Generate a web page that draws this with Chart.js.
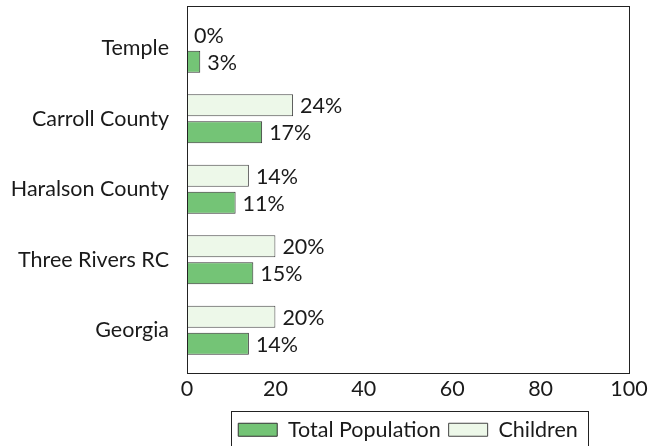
<!DOCTYPE html>
<html>
<head>
<meta charset="utf-8">
<script src="https://cdn.jsdelivr.net/npm/chart.js@4.4.0/dist/chart.umd.min.js"></script>
<style>
html,body{margin:0;padding:0;background:#fff;}
#wrap{width:663px;height:446px;}
</style>
</head>
<body>
<div id="wrap"><canvas id="c" width="663" height="446"></canvas></div>
<script>
const categories = ["Temple", "Carroll County", "Haralson County", "Three Rivers RC", "Georgia"];
const childrenValues = [0, 24, 14, 20, 20];
const totalValues = [3, 17, 11, 15, 14];
const xTicks = [0, 20, 40, 60, 80, 100];

const FONT = "Lato";
const FSIZE = 21.5;
const TXT = "#1a1a1a";

const frame = {
  id: 'frame',
  afterDraw(chart) {
    const ctx = chart.ctx, a = chart.chartArea;
    ctx.save();
    ctx.strokeStyle = '#222';
    ctx.lineWidth = 1;
    ctx.strokeRect(Math.round(a.left) + 0.5, Math.round(a.top) + 0.5, Math.round(a.right - a.left), Math.round(a.bottom - a.top));
    const lg = chart.legend;
    if (lg && lg.legendHitBoxes && lg.legendHitBoxes.length) {
      const hb = lg.legendHitBoxes;
      const l = Math.min(...hb.map(h => h.left)) - 7;
      const r = Math.max(...hb.map(h => h.left + h.width)) + 10;
      const cy = hb[0].top + hb[0].height / 2;
      const t = cy - 18.5;
      const b = cy + 19;
      ctx.strokeRect(Math.round(l) + 0.5, Math.round(t) + 0.5, Math.round(r - l), Math.round(b - t));
    }
    ctx.restore();
  }
};

const valueLabels = {
  id: 'valueLabels',
  afterDatasetsDraw(chart) {
    const ctx = chart.ctx;
    ctx.save();
    ctx.font = `${FSIZE}px ${FONT}`;
    ctx.fillStyle = TXT;
    ctx.textAlign = 'left';
    ctx.textBaseline = 'middle';
    chart.data.datasets.forEach((ds, di) => {
      const meta = chart.getDatasetMeta(di);
      meta.data.forEach((el, i) => {
        ctx.fillText(ds.data[i].x + '%', el.x + 7, el.y + 1);
      });
    });
    ctx.restore();
  }
};

new Chart(document.getElementById('c'), {
  type: 'bar',
  data: {
    datasets: [
      {
        label: 'Children',
        data: childrenValues.map((v, i) => ({x: v, y: i})),
        backgroundColor: '#edf8e9',
        borderColor: '#444',
        borderWidth: 1,
        borderSkipped: false
      },
      {
        label: 'Total Population',
        data: totalValues.map((v, i) => ({x: v, y: i})),
        backgroundColor: '#74c476',
        borderColor: '#333',
        borderWidth: 1,
        borderSkipped: false
      }
    ]
  },
  options: {
    indexAxis: 'y',
    responsive: false,
    animation: false,
    devicePixelRatio: 1,
    categoryPercentage: 0.766,
    barPercentage: 0.815,
    layout: { padding: { left: 0, right: 34, top: 6, bottom: -4.5 } },
    scales: {
      x: {
        type: 'linear',
        min: 0, max: 100,
        grid: { display: false, drawTicks: false },
        border: { display: false },
        afterBuildTicks(s) { s.ticks = xTicks.map(v => ({value: v})); },
        ticks: { color: TXT, font: { family: FONT, size: FSIZE }, padding: 4 },
        afterFit(s) { s.height = 38.5; s.paddingLeft = 0; s.paddingRight = 0; }
      },
      y: {
        type: 'linear',
        offset: false,
        grace: 0,
        min: -0.6, max: 4.6,
        reverse: true,
        grid: { display: false, drawTicks: false },
        border: { display: false },
        afterBuildTicks(s) { s.ticks = categories.map((c, i) => ({value: i})); },
        ticks: { color: TXT, font: { family: FONT, size: FSIZE }, padding: 18,
                 callback: (v) => categories[v] },
        afterFit(s) { s.width = 187; s.paddingTop = 0; s.paddingBottom = 0; }
      }
    },
    plugins: {
      tooltip: { enabled: false },
      legend: {
        position: 'bottom',
        fullSize: false,
        reverse: true,
        labels: {
          boxWidth: 39, boxHeight: 13,
          color: TXT,
          font: { family: FONT, size: FSIZE },
          padding: 8
        }
      }
    }
  },
  plugins: [frame, valueLabels]
});
</script>
</body>
</html>
